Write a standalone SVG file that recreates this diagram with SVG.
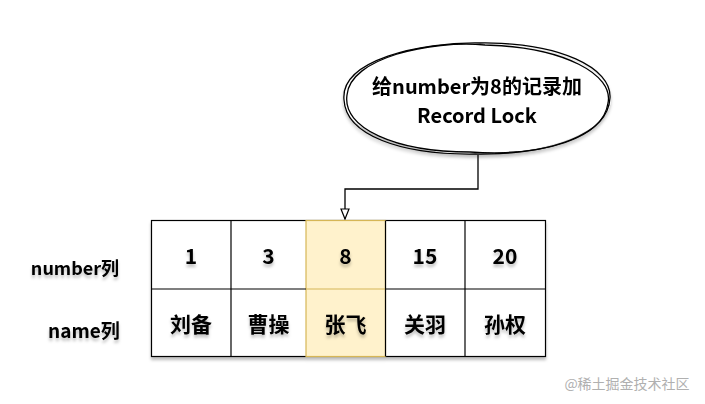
<svg xmlns="http://www.w3.org/2000/svg" width="705" height="404" viewBox="0 0 705 404">
<defs>
<style>
.t{font-family:"Noto Sans CJK SC","Noto Sans",sans-serif;font-weight:bold;fill:#000;text-anchor:middle;dominant-baseline:central}
.cell{fill:#fff;stroke:#000;stroke-width:1.2}
.hl{fill:#fff2cc;stroke:#d6b656;stroke-width:1.2}
.ln{fill:none;stroke:#000;stroke-width:1.3}
</style>
<filter id="sh" x="-20%" y="-20%" width="140%" height="150%">
<feDropShadow dx="0" dy="3" stdDeviation="1.8" flood-color="#000" flood-opacity="0.25"/>
</filter>
<marker id="ar" viewBox="0 0 12 10" refX="11" refY="5" markerWidth="12" markerHeight="10" orient="auto" markerUnits="userSpaceOnUse">
<path d="M1,1 L11,5 L1,9 Z" fill="#fff" stroke="#000" stroke-width="1.2"/>
</marker>
</defs>
<rect width="705" height="404" fill="#fff"/>
<g id="table" filter="url(#sh)">
<rect class="cell" x="151.5" y="220.5" width="394" height="136"/>
<rect class="hl" x="306" y="220.5" width="79.5" height="136"/>
<line x1="151.5" y1="289" x2="306" y2="289" stroke="#000" stroke-width="1.2"/>
<line x1="306" y1="289" x2="385.5" y2="289" stroke="#d6b656" stroke-width="1.2"/>
<line x1="385.5" y1="289" x2="545.5" y2="289" stroke="#000" stroke-width="1.2"/>
<line x1="231" y1="220.5" x2="231" y2="356.5" stroke="#000" stroke-width="1.2"/>
<line x1="465" y1="220.5" x2="465" y2="356.5" stroke="#000" stroke-width="1.2"/>
<line x1="385.5" y1="220.5" x2="385.5" y2="356.5" stroke="#000" stroke-width="1.2"/>
</g>
<g id="cells" filter="url(#sh)">
<text class="t" x="191" y="255" font-size="21">1</text>
<text class="t" x="268.5" y="255" font-size="21">3</text>
<text class="t" x="345.5" y="255" font-size="21">8</text>
<text class="t" x="425" y="255" font-size="21">15</text>
<text class="t" x="505" y="255" font-size="21">20</text>
<text class="t" x="191" y="323" font-size="21">刘备</text>
<text class="t" x="268.5" y="323" font-size="21">曹操</text>
<text class="t" x="345.5" y="323" font-size="21">张飞</text>
<text class="t" x="425" y="323" font-size="21">关羽</text>
<text class="t" x="505" y="323" font-size="21">孙权</text>
</g>
<g id="labels" filter="url(#sh)">
<text class="t" x="75" y="267" font-size="18">number列</text>
<text class="t" x="84" y="329" font-size="19">name列</text>
</g>
<g id="bubble" filter="url(#sh)">
<ellipse cx="477" cy="99" rx="134" ry="55" fill="#fff" stroke="none"/>
<path class="ln" d="M344,100 C340,60 420,42 480,43 C560,42 612,68 610,98 C608,135 550,155 475,154 C400,155 346,135 344,100 Z"/>
<path class="ln" d="M347,95 C350,58 430,40 485,45 C565,47 614,75 608,103 C603,138 545,157 470,152 C395,152 342,128 347,95" stroke-width="1"/>
<text class="t" x="477" y="85" font-size="20">给number为8的记录加</text>
<text class="t" x="477" y="114" font-size="20">Record Lock</text>
</g>
<g id="connectors">
<path class="ln" d="M478,155 L478,189 L345,189 L345,219" marker-end="url(#ar)"/>
</g>
<text x="627" y="383" font-family="'Noto Sans CJK SC',sans-serif" font-size="14" fill="#b0b0b0" text-anchor="middle" dominant-baseline="central">@稀土掘金技术社区</text>
</svg>
